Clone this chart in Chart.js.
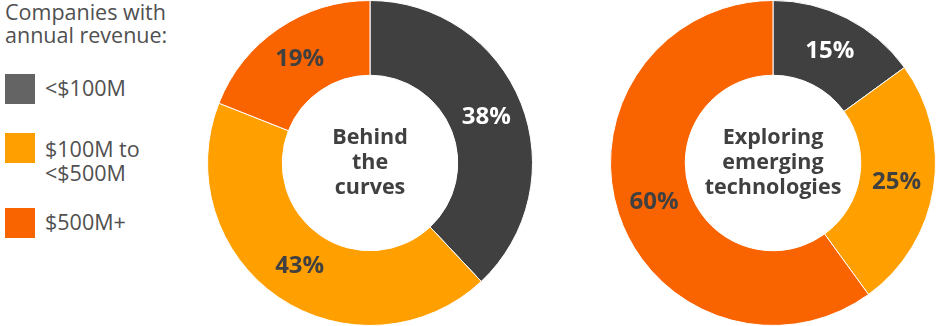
<!DOCTYPE html>
<html>
<head>
<meta charset="utf-8">
<script src="https://cdn.jsdelivr.net/npm/chart.js@4.4.0/dist/chart.umd.min.js"></script>
<style>
    body { margin: 0; background: #fff; font-family: 'Open Sans', sans-serif; color: #404040; }
    #wrap { position: relative; width: 939px; height: 326px; overflow: hidden; }
    #legend { position: absolute; left: 5px; top: 0px; width: 200px; }
    #legend .title { font-size: 21.5px; line-height: 23px; color: #505050; }
    .item { position: absolute; left: 0; font-size: 21.5px; line-height: 24px; color: #505050; }
    .item .box { position: absolute; left: 0; top: 0; width: 30px; height: 30px; }
    .item .txt { position: absolute; left: 40px; white-space: nowrap; }
    canvas { position: absolute; top: 0; }
</style>
</head>
<body>
<div id="wrap">
    <div id="legend"><div class="title">Companies with<br>annual revenue:</div></div>
    <canvas id="c1"></canvas>
    <canvas id="c2"></canvas>
</div>
<script>
const categories = ['<$100M', ['$100M to', '<$500M'], '$500M+'];
const chartColors = ['#404040', '#FFA000', '#F96300'];
const legendColors = ['#646464', '#FFA000', '#F96300'];
const behindValues = [38, 43, 19];
const exploringValues = [15, 25, 60];
const behindTitle = ['Behind', 'the', 'curves'];
const exploringTitle = ['Exploring', 'emerging', 'technologies'];
const labelColors = ['#ffffff', '#404040', '#404040'];

// legend built from categories
const legend = document.getElementById('legend');
const itemTops = [74, 133, 208];
categories.forEach((cat, i) => {
    const div = document.createElement('div');
    div.className = 'item';
    div.style.top = itemTops[i] + 'px';
    const box = document.createElement('div');
    box.className = 'box';
    box.style.background = legendColors[i];
    const txt = document.createElement('div');
    txt.className = 'txt';
    const lines = Array.isArray(cat) ? cat : [cat];
    txt.style.top = lines.length > 1 ? '4px' : '2px';
    txt.innerHTML = lines.map(l => l.replace('<', '&lt;')).join('<br>');
    div.appendChild(box);
    div.appendChild(txt);
    legend.appendChild(div);
});

const arcLabels = {
    id: 'arcLabels',
    afterDatasetsDraw(chart) {
        const ctx = chart.ctx;
        const meta = chart.getDatasetMeta(0);
        ctx.save();
        ctx.font = 'bold 24px "Open Sans"';
        ctx.textAlign = 'center';
        ctx.textBaseline = 'middle';
        meta.data.forEach((arc, i) => {
            const p = arc.tooltipPosition();
            ctx.fillStyle = labelColors[i];
            ctx.fillText(chart.data.datasets[0].data[i] + '%', p.x, p.y);
        });
        ctx.restore();
    }
};

const centerText = {
    id: 'centerText',
    afterDraw(chart, args, opts) {
        const ctx = chart.ctx;
        const arc = chart.getDatasetMeta(0).data[0];
        ctx.save();
        ctx.font = 'bold 21.5px "Open Sans"';
        ctx.fillStyle = '#404040';
        ctx.textAlign = 'center';
        ctx.textBaseline = 'middle';
        opts.lines.forEach((l, i) => {
            ctx.fillText(l, arc.x, arc.y - 25 + i * 25);
        });
        ctx.restore();
    }
};

function makeDoughnut(id, left, values, title) {
    const canvas = document.getElementById(id);
    canvas.style.left = left + 'px';
    canvas.width = 326;
    canvas.height = 326;
    return new Chart(canvas.getContext('2d'), {
        type: 'doughnut',
        data: {
            labels: categories.map(c => Array.isArray(c) ? c.join(' ') : c),
            datasets: [{
                data: values,
                backgroundColor: chartColors,
                borderColor: '#ffffff',
                borderWidth: 1
            }]
        },
        options: {
            responsive: false,
            animation: false,
            cutout: '54%',
            layout: { padding: 0 },
            plugins: {
                legend: { display: false },
                tooltip: { enabled: false },
                centerText: { lines: title }
            }
        },
        plugins: [arcLabels, centerText]
    });
}

makeDoughnut('c1', 207, behindValues, behindTitle);
makeDoughnut('c2', 610, exploringValues, exploringTitle);
</script>
</body>
</html>
